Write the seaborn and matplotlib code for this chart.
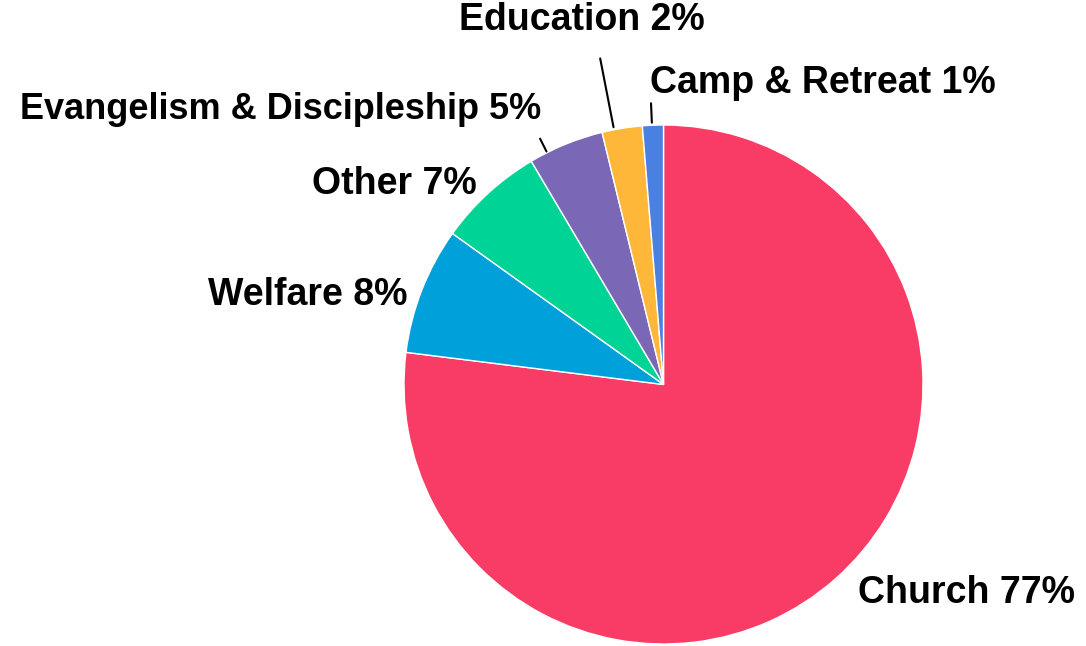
import numpy as np
import matplotlib
matplotlib.use("Agg")
import matplotlib.pyplot as plt
import seaborn as sns

# Data
categories = ['Church', 'Welfare', 'Other', 'Evangelism & Discipleship', 'Education', 'Camp & Retreat']
shares = [76.9, 7.9, 6.6, 4.7, 2.5, 1.3]
colors = ['#F83C65', '#00A1DB', '#00D396', '#7A68B6', '#FFB739', '#4A80E2']

sns.set_theme(style='white')
plt.rcParams['font.family'] = ['Liberation Sans', 'DejaVu Sans']

# label placement: (radial distance, angle nudge in degrees, ha)
label_pos = {
    'Church': (1.10, 1.5, 'left'),
    'Welfare': (1.045, 2.0, 'right'),
    'Other': (1.055, 0.5, 'right'),
    'Evangelism & Discipleship': (1.16, 1.8, 'right'),
    'Education': (1.44, 3.4, 'center'),
    'Camp & Retreat': (1.163, 0.3, 'left'),
}
# leader lines: (r start, r end, angle nudge)
leaders = {
    'Evangelism & Discipleship': (1.005, 1.06, 4.5),
    'Education': (1.01, 1.28, 1.8),
    'Camp & Retreat': (1.01, 1.085, 0.2),
}

fig = plt.figure(figsize=(10.86, 6.46), dpi=100)
ax = fig.add_axes([0, 0, 1, 1])
wedges, _ = ax.pie(shares, colors=colors, startangle=90, counterclock=False,
                   wedgeprops=dict(edgecolor='white', linewidth=1.0))

for w, name, val in zip(wedges, categories, shares):
    mid = (w.theta1 + w.theta2) / 2
    dist, nudge, ha = label_pos[name]
    a = np.deg2rad(mid + nudge)
    size = 26 if name.startswith('Evangelism') else 27
    ax.text(dist * np.cos(a), dist * np.sin(a), f'{name} {round(val)}%',
            ha=ha, va='center', fontsize=size, fontweight='bold', color='black')
    if name in leaders:
        r0, r1, dn = leaders[name]
        b = np.deg2rad(mid + dn)
        ax.plot([r0 * np.cos(b), r1 * np.cos(b)], [r0 * np.sin(b), r1 * np.sin(b)],
                color='black', linewidth=1.5)

r_px = 259.5
ax.set_xlim(-663.5 / r_px, (1086 - 663.5) / r_px)
ax.set_ylim(-(646 - 384.5) / r_px, 384.5 / r_px)
ax.set_aspect('equal')
ax.axis('off')

fig.savefig('out.png', dpi=100, facecolor='white')
